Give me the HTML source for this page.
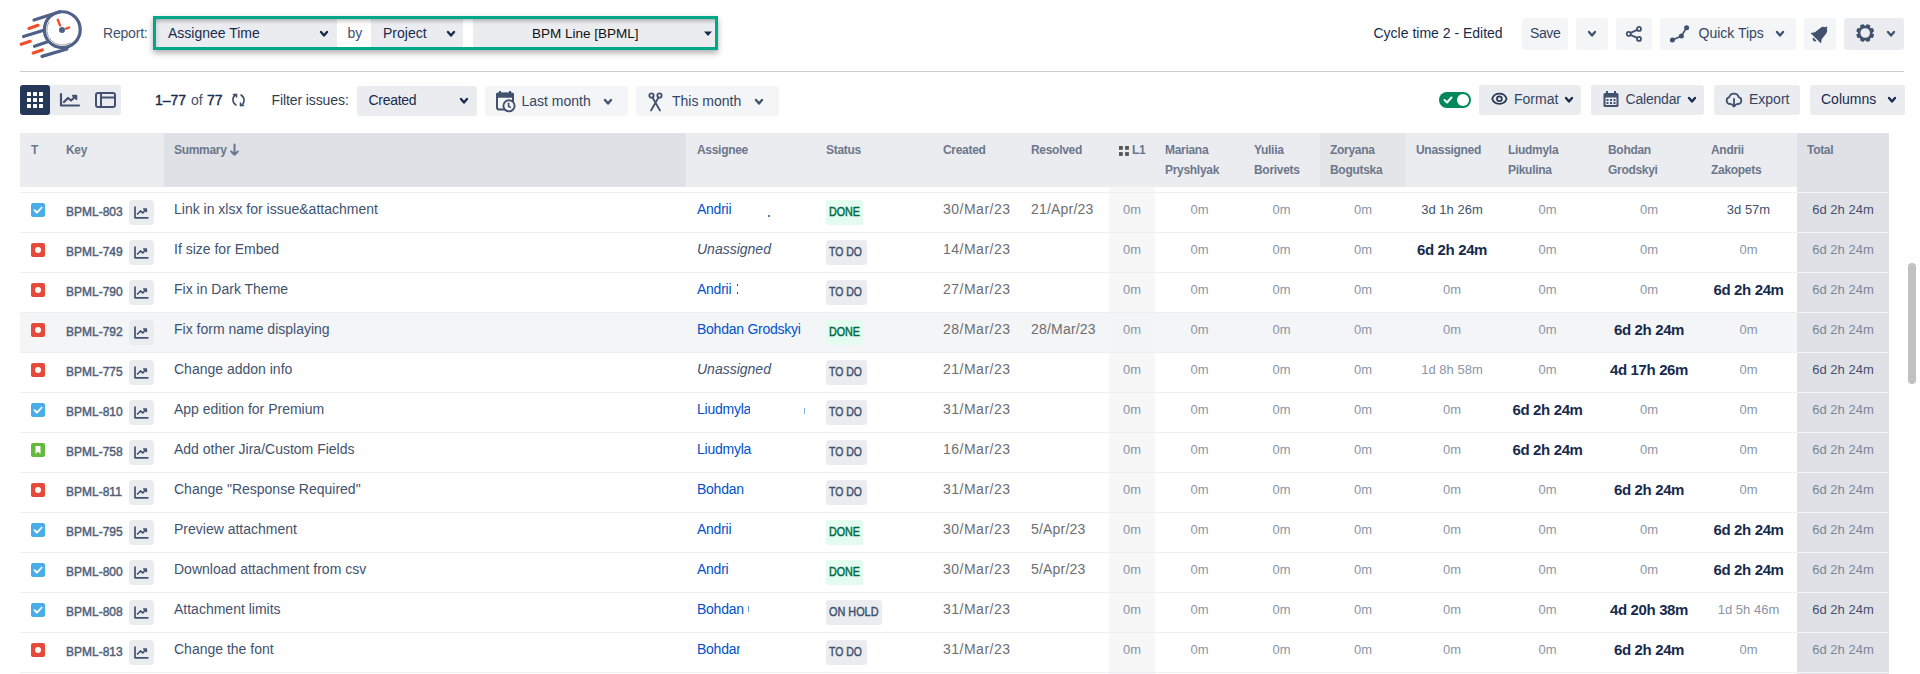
<!DOCTYPE html>
<html><head><meta charset='utf-8'><style>
html,body{margin:0;padding:0;background:#fff;width:1920px;height:674px;overflow:hidden;position:relative;font-family:"Liberation Sans",sans-serif;}
.t{position:absolute;white-space:nowrap;}
.b{position:absolute;display:block;}
</style></head><body>
<svg class='b' style='left:18px;top:6px;' width='70' height='58' viewBox='0 0 70 58'>
<g fill='none' stroke-linecap='round'>
<circle cx='44.3' cy='23.65' r='17.9' stroke='#4f6188' stroke-width='3.2'/>
<path d='M31 15.7 A15.5 15.5 0 0 0 52.2 37' stroke='#a0a0a0' stroke-width='1'/>
<path d='M16 14 L42 5.8' stroke='#4f6188' stroke-width='3.2'/>
<path d='M5.5 30.6 L25 24.4' stroke='#4f6188' stroke-width='3.2'/>
<path d='M16.5 40.3 L29 36' stroke='#4f6188' stroke-width='3.2'/>
<path d='M24 50.4 L49 43' stroke='#4f6188' stroke-width='3.2'/>
<path d='M11 22.4 L20 19.3' stroke='#f24e2c' stroke-width='3.2'/>
<path d='M3.2 38.3 L12.2 35.3' stroke='#f24e2c' stroke-width='3.2'/>
<path d='M15.2 47 L24.3 44' stroke='#f24e2c' stroke-width='3.2'/>
<path d='M39.8 13.8 L42 19.4' stroke='#f24e2c' stroke-width='2.4'/>
<path d='M48 22.7 L51.2 21.5' stroke='#f24e2c' stroke-width='2.4'/>
</g>
<circle cx='44' cy='24' r='3' fill='#4f6188'/>
</svg>
<div class='t' style='left:103px;top:26.15px;font-size:14px;line-height:14px;font-weight:400;color:#42526e;letter-spacing:-0.2px;'>Report:</div>
<div class='b' style='left:153px;top:16px;width:565px;height:34px;background:#fff;box-sizing:border-box;border:3px solid #00a88a;box-shadow:0px 3px 6px rgba(0,0,0,0.32);'></div>
<div class='b' style='left:156px;top:19px;width:181px;height:28px;background:linear-gradient(to bottom, rgba(0,0,0,0.24) 0px, rgba(0,0,0,0.12) 2px, rgba(0,0,0,0.03) 4.5px, rgba(0,0,0,0) 6px), linear-gradient(to right, rgba(0,0,0,0.08) 0px, rgba(0,0,0,0) 5px), #ebecf0;'></div>
<div class='b' style='left:337px;top:19px;width:34px;height:28px;background:linear-gradient(to bottom, rgba(0,0,0,0.24) 0px, rgba(0,0,0,0.12) 2px, rgba(0,0,0,0.03) 4.5px, rgba(0,0,0,0) 6px), #fff;'></div>
<div class='b' style='left:371px;top:19px;width:92px;height:28px;background:linear-gradient(to bottom, rgba(0,0,0,0.24) 0px, rgba(0,0,0,0.12) 2px, rgba(0,0,0,0.03) 4.5px, rgba(0,0,0,0) 6px), #ebecf0;'></div>
<div class='b' style='left:463px;top:19px;width:10px;height:28px;background:linear-gradient(to bottom, rgba(0,0,0,0.24) 0px, rgba(0,0,0,0.12) 2px, rgba(0,0,0,0.03) 4.5px, rgba(0,0,0,0) 6px), #fff;'></div>
<div class='b' style='left:473px;top:19px;width:242px;height:28px;background:linear-gradient(to bottom, rgba(0,0,0,0.24) 0px, rgba(0,0,0,0.12) 2px, rgba(0,0,0,0.03) 4.5px, rgba(0,0,0,0) 6px), #ebecf0;'></div>
<div class='t' style='left:168px;top:26.15px;font-size:14px;line-height:14px;font-weight:400;color:#172b4d;'>Assignee Time</div>
<svg class='b' style='left:319.0px;top:29.7px;' width='10' height='7.6' viewBox='0 0 10 7.6'><path d='M2 2 L5.0 5.6 L8 2' fill='none' stroke='#172b4d' stroke-width='2.3' stroke-linecap='round' stroke-linejoin='round'/></svg>
<div class='t' style='left:347.5px;top:26.15px;font-size:14px;line-height:14px;font-weight:400;color:#42526e;'>by</div>
<div class='t' style='left:383px;top:26.15px;font-size:14px;line-height:14px;font-weight:400;color:#172b4d;'>Project</div>
<svg class='b' style='left:445.5px;top:29.7px;' width='10' height='7.6' viewBox='0 0 10 7.6'><path d='M2 2 L5.0 5.6 L8 2' fill='none' stroke='#172b4d' stroke-width='2.3' stroke-linecap='round' stroke-linejoin='round'/></svg>
<div class='t' style='left:532px;top:26.57px;font-size:13.5px;line-height:13.5px;font-weight:400;color:#111;'>BPM Line [BPML]</div>
<svg class='b' style='left:704px;top:31px;' width='8' height='6' viewBox='0 0 8 6'><path d='M0 0.5 L8 0.5 L4 5 Z' fill='#172b4d'/></svg>
<div class='t' style='left:1373.5px;top:26.15px;font-size:14px;line-height:14px;font-weight:400;color:#172b4d;'>Cycle time 2 - Edited</div>
<div class='b' style='left:1522px;top:18px;width:46px;height:32px;background:#f4f5f7;border-radius:3px;'></div>
<div class='t' style='left:1530px;top:26.15px;font-size:14px;line-height:14px;font-weight:400;color:#344563;letter-spacing:-0.4px;'>Save</div>
<div class='b' style='left:1576px;top:18px;width:32px;height:32px;background:#f4f5f7;border-radius:3px;'></div>
<svg class='b' style='left:1587.0px;top:30.200000000000003px;' width='10' height='7.6' viewBox='0 0 10 7.6'><path d='M2 2 L5.0 5.6 L8 2' fill='none' stroke='#42526e' stroke-width='2.3' stroke-linecap='round' stroke-linejoin='round'/></svg>
<div class='b' style='left:1616px;top:18px;width:36px;height:32px;background:#f4f5f7;border-radius:3px;'></div>
<svg class='b' style='left:1622px;top:22px;' width='24' height='24' viewBox='0 0 24 24'><g fill='none' stroke='#42526e' stroke-width='1.8'><circle cx='17' cy='6.9' r='2'/><circle cx='6.75' cy='11.9' r='2'/><circle cx='17' cy='16.9' r='2'/><path d='M8.5 10.9 L15.2 7.9 M8.5 12.9 L15.2 15.9'/></g></svg>
<div class='b' style='left:1660px;top:18px;width:136px;height:32px;background:#f4f5f7;border-radius:3px;'></div>
<svg class='b' style='left:1668px;top:23px;' width='24' height='22' viewBox='0 0 24 22'><path d='M4.4 17.1 L13.4 13 L18.6 4.7' fill='none' stroke='#42526e' stroke-width='1.6'/><g fill='#42526e'><circle cx='4.4' cy='17.1' r='2.5'/><circle cx='13.4' cy='13' r='2.5'/><circle cx='18.6' cy='4.7' r='2.5'/></g></svg>
<div class='t' style='left:1698.5px;top:26.15px;font-size:14px;line-height:14px;font-weight:400;color:#344563;'>Quick Tips</div>
<svg class='b' style='left:1775.0px;top:30.200000000000003px;' width='10' height='7.6' viewBox='0 0 10 7.6'><path d='M2 2 L5.0 5.6 L8 2' fill='none' stroke='#42526e' stroke-width='2.3' stroke-linecap='round' stroke-linejoin='round'/></svg>
<div class='b' style='left:1804px;top:18px;width:32px;height:32px;background:#f4f5f7;border-radius:3px;'></div>
<svg class='b' style='left:1808px;top:22px;' width='24' height='24' viewBox='0 0 24 24'><g transform='rotate(45 12 12)' fill='#42526e'><path d='M12 3.5 C9.6 3.5 8.2 5 8 7.5 L7.2 14.5 L4.5 18 L19.5 18 L16.8 14.5 L16 7.5 C15.8 5 14.4 3.5 12 3.5 Z'/><rect x='11' y='2' width='2' height='3' rx='1'/><path d='M9.8 19.2 A2.2 2.2 0 0 0 14.2 19.2 Z'/></g></svg>
<div class='b' style='left:1844px;top:18px;width:60px;height:32px;background:#ebecf0;border-radius:3px;'></div>
<svg class='b' style='left:1855px;top:22.5px;' width='21' height='21' viewBox='0 0 21 21'><g transform='translate(10.2 10)' fill='#42526e'><rect x='-2.1' y='-9' width='4.2' height='4' rx='1' transform='rotate(22.5)'/><rect x='-2.1' y='-9' width='4.2' height='4' rx='1' transform='rotate(67.5)'/><rect x='-2.1' y='-9' width='4.2' height='4' rx='1' transform='rotate(112.5)'/><rect x='-2.1' y='-9' width='4.2' height='4' rx='1' transform='rotate(157.5)'/><rect x='-2.1' y='-9' width='4.2' height='4' rx='1' transform='rotate(202.5)'/><rect x='-2.1' y='-9' width='4.2' height='4' rx='1' transform='rotate(247.5)'/><rect x='-2.1' y='-9' width='4.2' height='4' rx='1' transform='rotate(292.5)'/><rect x='-2.1' y='-9' width='4.2' height='4' rx='1' transform='rotate(337.5)'/><circle r='7.4'/><circle r='4.8' fill='#ebecf0'/></g></svg>
<svg class='b' style='left:1886.0px;top:30.200000000000003px;' width='10' height='7.6' viewBox='0 0 10 7.6'><path d='M2 2 L5.0 5.6 L8 2' fill='none' stroke='#42526e' stroke-width='2.3' stroke-linecap='round' stroke-linejoin='round'/></svg>
<div class='b' style='left:20px;top:71px;width:1884px;height:1px;background:#cdcdcd;'></div>
<div class='b' style='left:20px;top:85px;width:101px;height:30px;background:#ebecf0;border-radius:3px;'></div>
<div class='b' style='left:20px;top:85px;width:30px;height:30px;background:#253858;border-radius:3px;'></div>
<svg class='b' style='left:27px;top:92px;' width='16' height='16' viewBox='0 0 16 16'><rect x='0' y='0' width='4' height='4' rx='0.5' fill='#fff'/><rect x='6' y='0' width='4' height='4' rx='0.5' fill='#fff'/><rect x='12' y='0' width='4' height='4' rx='0.5' fill='#fff'/><rect x='0' y='6' width='4' height='4' rx='0.5' fill='#fff'/><rect x='6' y='6' width='4' height='4' rx='0.5' fill='#fff'/><rect x='12' y='6' width='4' height='4' rx='0.5' fill='#fff'/><rect x='0' y='12' width='4' height='4' rx='0.5' fill='#fff'/><rect x='6' y='12' width='4' height='4' rx='0.5' fill='#fff'/><rect x='12' y='12' width='4' height='4' rx='0.5' fill='#fff'/></svg>
<svg class='b' style='left:59px;top:92px;' width='22' height='16' viewBox='0 0 22 16'><g fill='none' stroke='#42526e' stroke-width='2.2' stroke-linecap='round' stroke-linejoin='round'><path d='M2 2 L2 13.5 L20 13.5'/><path d='M5 10 L9 6 L12 8.5 L17 4 M14 3.8 L17.2 3.8 L17.2 7'/></g></svg>
<svg class='b' style='left:95px;top:92px;' width='21' height='16' viewBox='0 0 21 16'><g fill='none' stroke='#42526e' stroke-width='2'><rect x='1' y='1' width='19' height='14' rx='2'/><path d='M6 1 L6 15 M6 5.5 L20 5.5'/></g></svg>
<div class='t' style='left:155px;top:93.15px;font-size:14px;line-height:14px;font-weight:400;color:#172b4d;-webkit-text-stroke:0.4px #172b4d;'>1–77</div>
<div class='t' style='left:191px;top:93.15px;font-size:14px;line-height:14px;font-weight:400;color:#42526e;'>of</div>
<div class='t' style='left:207px;top:93.15px;font-size:14px;line-height:14px;font-weight:400;color:#172b4d;-webkit-text-stroke:0.4px #172b4d;'>77</div>
<svg class='b' style='left:230px;top:92px;' width='17' height='16' viewBox='0 0 17 16'><g fill='none' stroke='#42526e' stroke-width='1.6' stroke-linecap='round'><path d='M6 2.5 A6 6 0 0 0 6 13'/><path d='M3.5 2.5 L6.5 2.5 L6.5 5'/><path d='M11 13.5 A6 6 0 0 0 11 3'/><path d='M13.5 13.5 L10.5 13.5 L10.5 11'/></g></svg>
<div class='t' style='left:271.5px;top:93.15px;font-size:14px;line-height:14px;font-weight:400;color:#2f3d58;letter-spacing:-0.1px;'>Filter issues:</div>
<div class='b' style='left:357px;top:86px;width:120px;height:30px;background:#ebecf0;border-radius:3px;'></div>
<div class='t' style='left:368.5px;top:93.15px;font-size:14px;line-height:14px;font-weight:400;color:#172b4d;letter-spacing:-0.3px;'>Created</div>
<svg class='b' style='left:459.0px;top:97.2px;' width='10' height='7.6' viewBox='0 0 10 7.6'><path d='M2 2 L5.0 5.6 L8 2' fill='none' stroke='#172b4d' stroke-width='2.3' stroke-linecap='round' stroke-linejoin='round'/></svg>
<div class='b' style='left:485px;top:86px;width:143px;height:30px;background:#f4f5f7;border-radius:3px;'></div>
<svg class='b' style='left:494px;top:90px;' width='24' height='24' viewBox='0 0 24 24'><rect x='3' y='3.6' width='16' height='15.8' rx='1.8' fill='none' stroke='#42526e' stroke-width='2'/><rect x='2' y='2.7' width='18' height='5' rx='1.5' fill='#42526e'/><rect x='5' y='1' width='2' height='3' fill='#42526e'/><rect x='15' y='1' width='2' height='3' fill='#42526e'/><circle cx='15' cy='15.8' r='5.6' fill='#f4f5f7' stroke='#42526e' stroke-width='1.9'/><path d='M14.6 12.8 L14.6 16.2 L16.8 17.6' fill='none' stroke='#42526e' stroke-width='1.7'/></svg>
<div class='t' style='left:521.5px;top:94.15px;font-size:14px;line-height:14px;font-weight:400;color:#344563;'>Last month</div>
<svg class='b' style='left:603.0px;top:97.7px;' width='10' height='7.6' viewBox='0 0 10 7.6'><path d='M2 2 L5.0 5.6 L8 2' fill='none' stroke='#42526e' stroke-width='2.3' stroke-linecap='round' stroke-linejoin='round'/></svg>
<div class='b' style='left:636px;top:86px;width:143px;height:30px;background:#f4f5f7;border-radius:3px;'></div>
<svg class='b' style='left:647px;top:92px;' width='18' height='20' viewBox='0 0 18 20'><g fill='none' stroke='#42526e' stroke-width='1.8' stroke-linecap='round'><circle cx='4.5' cy='3.5' r='2.2'/><circle cx='12.5' cy='3.5' r='2.2'/><path d='M5.5 5.5 L13 18.5 M11.5 5.5 L4 18.5'/></g></svg>
<div class='t' style='left:672px;top:94.15px;font-size:14px;line-height:14px;font-weight:400;color:#344563;'>This month</div>
<svg class='b' style='left:754.0px;top:97.7px;' width='10' height='7.6' viewBox='0 0 10 7.6'><path d='M2 2 L5.0 5.6 L8 2' fill='none' stroke='#42526e' stroke-width='2.3' stroke-linecap='round' stroke-linejoin='round'/></svg>
<div class='b' style='left:1439px;top:92px;width:32px;height:16px;background:#00875a;border-radius:8px;'></div>
<div class='b' style='left:1457px;top:94px;width:12px;height:12px;border-radius:6px;background:#fff'></div>
<svg class='b' style='left:1443px;top:95px;' width='10' height='10' viewBox='0 0 10 10'><path d='M1.5 5 L4 7.5 L8.5 2.5' fill='none' stroke='#fff' stroke-width='2' stroke-linecap='round' stroke-linejoin='round'/></svg>
<div class='b' style='left:1479px;top:85px;width:102px;height:30px;background:#ebecf0;border-radius:3px;'></div>
<svg class='b' style='left:1490px;top:92px;' width='18' height='14' viewBox='0 0 18 14'><g fill='none' stroke='#2c3a55' stroke-width='1.8'><path d='M2.2 6.8 C3.5 2.8 6.5 1.7 9.4 1.7 C12.3 1.7 15.3 2.8 16.6 6.8 C15.3 10.8 12.3 11.9 9.4 11.9 C6.5 11.9 3.5 10.8 2.2 6.8 Z'/><circle cx='9.4' cy='6.8' r='2.4'/></g></svg>
<div class='t' style='left:1514px;top:92.15px;font-size:14px;line-height:14px;font-weight:400;color:#344563;'>Format</div>
<svg class='b' style='left:1563.5px;top:96.2px;' width='10' height='7.6' viewBox='0 0 10 7.6'><path d='M2 2 L5.0 5.6 L8 2' fill='none' stroke='#172b4d' stroke-width='2.3' stroke-linecap='round' stroke-linejoin='round'/></svg>
<div class='b' style='left:1591px;top:85px;width:113px;height:30px;background:#ebecf0;border-radius:3px;'></div>
<svg class='b' style='left:1602px;top:90px;' width='18' height='18' viewBox='0 0 18 18'><g fill='#42526e'><rect x='1.5' y='3' width='15' height='14' rx='1.5'/><rect x='4' y='1' width='2' height='4'/><rect x='12' y='1' width='2' height='4'/></g><rect x='3.5' y='7.5' width='11' height='7.5' fill='#ebecf0'/><g fill='#42526e'><rect x='4.5' y='9' width='2' height='2'/><rect x='8' y='9' width='2' height='2'/><rect x='11.5' y='9' width='2' height='2'/><rect x='4.5' y='12' width='2' height='2'/><rect x='8' y='12' width='2' height='2'/><rect x='11.5' y='12' width='2' height='2'/></g></svg>
<div class='t' style='left:1625.5px;top:92.15px;font-size:14px;line-height:14px;font-weight:400;color:#344563;letter-spacing:-0.2px;'>Calendar</div>
<svg class='b' style='left:1686.5px;top:96.2px;' width='10' height='7.6' viewBox='0 0 10 7.6'><path d='M2 2 L5.0 5.6 L8 2' fill='none' stroke='#172b4d' stroke-width='2.3' stroke-linecap='round' stroke-linejoin='round'/></svg>
<div class='b' style='left:1714px;top:85px;width:86px;height:30px;background:#ebecf0;border-radius:3px;'></div>
<svg class='b' style='left:1725px;top:92px;' width='18' height='16' viewBox='0 0 18 16'><g fill='none' stroke='#42526e' stroke-width='1.8' stroke-linecap='round' stroke-linejoin='round'><path d='M5.5 12 L4.5 12 A3.5 3.5 0 0 1 4.2 5.2 A5 5 0 0 1 13.8 5.2 A3.5 3.5 0 0 1 13.5 12 L12.5 12'/><path d='M9 7 L9 14.5 M6.8 12.3 L9 14.5 L11.2 12.3'/></g></svg>
<div class='t' style='left:1749px;top:92.15px;font-size:14px;line-height:14px;font-weight:400;color:#344563;'>Export</div>
<div class='b' style='left:1810px;top:85px;width:95px;height:30px;background:#ebecf0;border-radius:3px;'></div>
<div class='t' style='left:1821px;top:92.15px;font-size:14px;line-height:14px;font-weight:400;color:#172b4d;'>Columns</div>
<svg class='b' style='left:1887.0px;top:96.2px;' width='10' height='7.6' viewBox='0 0 10 7.6'><path d='M2 2 L5.0 5.6 L8 2' fill='none' stroke='#172b4d' stroke-width='2.3' stroke-linecap='round' stroke-linejoin='round'/></svg>
<div class='b' style='left:20px;top:133px;width:1869px;height:54px;background:#ebecf0;'></div>
<div class='b' style='left:164px;top:133px;width:522px;height:54px;background:#dfe1e6;'></div>
<div class='b' style='left:1320px;top:133px;width:86px;height:54px;background:#e4e5e7;'></div>
<div class='b' style='left:1797px;top:133px;width:92px;height:59px;background:#dfe1e6;'></div>
<div class='t' style='left:31px;top:143.84px;font-size:12px;line-height:12px;font-weight:700;color:#6b778c;letter-spacing:-0.3px;'>T</div>
<div class='t' style='left:66px;top:143.84px;font-size:12px;line-height:12px;font-weight:700;color:#6b778c;letter-spacing:-0.3px;'>Key</div>
<div class='t' style='left:174px;top:143.84px;font-size:12px;line-height:12px;font-weight:700;color:#6b778c;letter-spacing:-0.3px;'>Summary</div>
<svg class='b' style='left:229.5px;top:143px;' width='9' height='14' viewBox='0 0 9 14'><path d='M4.5 1.5 L4.5 11.8 M1.2 8.5 L4.5 11.8 L7.8 8.5' fill='none' stroke='#6b778c' stroke-width='2' stroke-linecap='round' stroke-linejoin='round'/></svg>
<div class='t' style='left:697px;top:143.84px;font-size:12px;line-height:12px;font-weight:700;color:#6b778c;letter-spacing:-0.3px;'>Assignee</div>
<div class='t' style='left:826px;top:143.84px;font-size:12px;line-height:12px;font-weight:700;color:#6b778c;letter-spacing:-0.3px;'>Status</div>
<div class='t' style='left:943px;top:143.84px;font-size:12px;line-height:12px;font-weight:700;color:#6b778c;letter-spacing:-0.3px;'>Created</div>
<div class='t' style='left:1031px;top:143.84px;font-size:12px;line-height:12px;font-weight:700;color:#6b778c;letter-spacing:-0.3px;'>Resolved</div>
<svg class='b' style='left:1119px;top:146px;' width='10' height='10' viewBox='0 0 10 10'><g fill='#555'><rect x='0' y='0' width='3.8' height='3.8'/><rect x='6.1' y='0' width='3.8' height='3.8'/><rect x='0' y='6.1' width='3.8' height='3.8'/><rect x='6.1' y='6.1' width='3.8' height='3.8'/></g></svg>
<div class='t' style='left:1132px;top:143.84px;font-size:12px;line-height:12px;font-weight:700;color:#6b778c;letter-spacing:-0.3px;'>L1</div>
<div class='t' style='left:1165px;top:143.84px;font-size:12px;line-height:12px;font-weight:700;color:#6b778c;letter-spacing:-0.3px;'>Mariana</div>
<div class='t' style='left:1165px;top:163.84px;font-size:12px;line-height:12px;font-weight:700;color:#6b778c;letter-spacing:-0.3px;'>Pryshlyak</div>
<div class='t' style='left:1254px;top:143.84px;font-size:12px;line-height:12px;font-weight:700;color:#6b778c;letter-spacing:-0.3px;'>Yuliia</div>
<div class='t' style='left:1254px;top:163.84px;font-size:12px;line-height:12px;font-weight:700;color:#6b778c;letter-spacing:-0.3px;'>Borivets</div>
<div class='t' style='left:1330px;top:143.84px;font-size:12px;line-height:12px;font-weight:700;color:#6b778c;letter-spacing:-0.3px;'>Zoryana</div>
<div class='t' style='left:1330px;top:163.84px;font-size:12px;line-height:12px;font-weight:700;color:#6b778c;letter-spacing:-0.3px;'>Bogutska</div>
<div class='t' style='left:1508px;top:143.84px;font-size:12px;line-height:12px;font-weight:700;color:#6b778c;letter-spacing:-0.3px;'>Liudmyla</div>
<div class='t' style='left:1508px;top:163.84px;font-size:12px;line-height:12px;font-weight:700;color:#6b778c;letter-spacing:-0.3px;'>Pikulina</div>
<div class='t' style='left:1608px;top:143.84px;font-size:12px;line-height:12px;font-weight:700;color:#6b778c;letter-spacing:-0.3px;'>Bohdan</div>
<div class='t' style='left:1608px;top:163.84px;font-size:12px;line-height:12px;font-weight:700;color:#6b778c;letter-spacing:-0.3px;'>Grodskyi</div>
<div class='t' style='left:1711px;top:143.84px;font-size:12px;line-height:12px;font-weight:700;color:#6b778c;letter-spacing:-0.3px;'>Andrii</div>
<div class='t' style='left:1711px;top:163.84px;font-size:12px;line-height:12px;font-weight:700;color:#6b778c;letter-spacing:-0.3px;'>Zakopets</div>
<div class='t' style='left:1416px;top:143.84px;font-size:12px;line-height:12px;font-weight:700;color:#6b778c;letter-spacing:-0.3px;'>Unassigned</div>
<div class='t' style='left:1807px;top:143.84px;font-size:12px;line-height:12px;font-weight:700;color:#6b778c;letter-spacing:-0.3px;'>Total</div>
<div class='b' style='left:1109px;top:187px;width:46px;height:45px;background:#f7f7f8;'></div>
<div class='b' style='left:1797px;top:192px;width:92px;height:40px;background:#dfe1e6;'></div>
<div class='b' style='left:20px;top:192px;width:1777px;height:1px;background:#eeeff2;'></div>
<div class='b' style='left:1797px;top:192px;width:92px;height:1px;background:#f4f5f7;'></div>
<svg class='b' style='left:31px;top:203px;' width='14' height='14' viewBox='0 0 14 14'><rect width='14' height='14' rx='2' fill='#4bade8'/><path d='M3.5 7.2 L6 9.7 L10.7 4.5' fill='none' stroke='#fff' stroke-width='1.8' stroke-linecap='round' stroke-linejoin='round'/></svg>
<div class='t' style='left:66px;top:205.84px;font-size:12px;line-height:12px;font-weight:400;color:#505f79;-webkit-text-stroke:0.45px #505f79;'>BPML-803</div>
<div class='b' style='left:129px;top:200px;width:25px;height:25px;background:#ebecf0;border-radius:4px;'></div>
<svg class='b' style='left:132px;top:203px;' width='19' height='19' viewBox='0 0 19 19'><g fill='none' stroke='#42526e' stroke-width='1.7' stroke-linecap='round' stroke-linejoin='round'><path d='M3 4 L3 14.8 L15.8 14.8'/><path d='M5.5 11 L8.5 8 L10.7 9.8 L14 6.5 M11.8 6 L14.3 6 L14.3 8.5'/></g></svg>
<div class='t' style='left:174px;top:202.15px;font-size:14px;line-height:14px;font-weight:400;color:#42526e;'>Link in xlsx for issue&amp;attachment</div>
<div class='t' style='left:697px;top:202.15px;font-size:14px;line-height:14px;font-weight:400;color:#0052cc;letter-spacing:-0.25px;'>Andrii</div>
<div class='b' style='left:768px;top:215px;width:2px;height:2px;background:#3d7de0;'></div>
<div class='b' style='left:826px;top:200px;width:37px;height:25px;background:#e3fcef;border-radius:3px;'></div>
<div class='t' style='left:829px;top:205.84px;font-size:12px;line-height:12px;font-weight:400;color:#006644;'><span style='display:inline-block;transform:scaleX(0.893);transform-origin:0 0;-webkit-text-stroke:0.45px #006644'>DONE</span></div>
<div class='t' style='left:943px;top:202.15px;font-size:14px;line-height:14px;font-weight:400;color:#6d6e70;letter-spacing:0.5px;'>30/Mar/23</div>
<div class='t' style='left:1031px;top:202.15px;font-size:14px;line-height:14px;font-weight:400;color:#6d6e70;letter-spacing:0.2px;'>21/Apr/23</div>
<div class='t' style='left:1102px;top:203.00px;font-size:13px;line-height:13px;font-weight:400;color:#8b94a5;width:60px;text-align:center;'>0m</div>
<div class='t' style='left:1169.5px;top:203.00px;font-size:13px;line-height:13px;font-weight:400;color:#8b94a5;width:60px;text-align:center;'>0m</div>
<div class='t' style='left:1251.5px;top:203.00px;font-size:13px;line-height:13px;font-weight:400;color:#8b94a5;width:60px;text-align:center;'>0m</div>
<div class='t' style='left:1333px;top:203.00px;font-size:13px;line-height:13px;font-weight:400;color:#8b94a5;width:60px;text-align:center;'>0m</div>
<div class='t' style='left:1402px;top:203.00px;font-size:13px;line-height:13px;font-weight:400;color:#42526e;width:100px;text-align:center;'>3d 1h 26m</div>
<div class='t' style='left:1517.5px;top:203.00px;font-size:13px;line-height:13px;font-weight:400;color:#8b94a5;width:60px;text-align:center;'>0m</div>
<div class='t' style='left:1619px;top:203.00px;font-size:13px;line-height:13px;font-weight:400;color:#8b94a5;width:60px;text-align:center;'>0m</div>
<div class='t' style='left:1698.5px;top:203.00px;font-size:13px;line-height:13px;font-weight:400;color:#42526e;width:100px;text-align:center;'>3d 57m</div>
<div class='t' style='left:1793px;top:203.00px;font-size:13px;line-height:13px;font-weight:400;color:#42526e;width:100px;text-align:center;'>6d 2h 24m</div>
<div class='b' style='left:1109px;top:232px;width:46px;height:40px;background:#f7f7f8;'></div>
<div class='b' style='left:1797px;top:232px;width:92px;height:40px;background:#dfe1e6;'></div>
<div class='b' style='left:20px;top:232px;width:1777px;height:1px;background:#eeeff2;'></div>
<div class='b' style='left:1797px;top:232px;width:92px;height:1px;background:#f4f5f7;'></div>
<svg class='b' style='left:31px;top:243px;' width='14' height='14' viewBox='0 0 14 14'><rect width='14' height='14' rx='2' fill='#e5493a'/><circle cx='7' cy='7' r='3' fill='#fff'/></svg>
<div class='t' style='left:66px;top:245.84px;font-size:12px;line-height:12px;font-weight:400;color:#505f79;-webkit-text-stroke:0.45px #505f79;'>BPML-749</div>
<div class='b' style='left:129px;top:240px;width:25px;height:25px;background:#ebecf0;border-radius:4px;'></div>
<svg class='b' style='left:132px;top:243px;' width='19' height='19' viewBox='0 0 19 19'><g fill='none' stroke='#42526e' stroke-width='1.7' stroke-linecap='round' stroke-linejoin='round'><path d='M3 4 L3 14.8 L15.8 14.8'/><path d='M5.5 11 L8.5 8 L10.7 9.8 L14 6.5 M11.8 6 L14.3 6 L14.3 8.5'/></g></svg>
<div class='t' style='left:174px;top:242.15px;font-size:14px;line-height:14px;font-weight:400;color:#42526e;'>If size for Embed</div>
<div class='t' style='left:697px;top:242.15px;font-size:14px;line-height:14px;font-weight:400;color:#42526e;font-style:italic;'>Unassigned</div>
<div class='b' style='left:826px;top:240px;width:41px;height:25px;background:#ebecf0;border-radius:3px;'></div>
<div class='t' style='left:829px;top:245.84px;font-size:12px;line-height:12px;font-weight:400;color:#42526e;'><span style='display:inline-block;transform:scaleX(0.87);transform-origin:0 0;-webkit-text-stroke:0.45px #42526e'>TO DO</span></div>
<div class='t' style='left:943px;top:242.15px;font-size:14px;line-height:14px;font-weight:400;color:#6d6e70;letter-spacing:0.5px;'>14/Mar/23</div>
<div class='t' style='left:1102px;top:243.00px;font-size:13px;line-height:13px;font-weight:400;color:#8b94a5;width:60px;text-align:center;'>0m</div>
<div class='t' style='left:1169.5px;top:243.00px;font-size:13px;line-height:13px;font-weight:400;color:#8b94a5;width:60px;text-align:center;'>0m</div>
<div class='t' style='left:1251.5px;top:243.00px;font-size:13px;line-height:13px;font-weight:400;color:#8b94a5;width:60px;text-align:center;'>0m</div>
<div class='t' style='left:1333px;top:243.00px;font-size:13px;line-height:13px;font-weight:400;color:#8b94a5;width:60px;text-align:center;'>0m</div>
<div class='t' style='left:1402px;top:242.30px;font-size:15px;line-height:15px;font-weight:700;color:#172b4d;width:100px;text-align:center;letter-spacing:-0.35px;'>6d 2h 24m</div>
<div class='t' style='left:1517.5px;top:243.00px;font-size:13px;line-height:13px;font-weight:400;color:#8b94a5;width:60px;text-align:center;'>0m</div>
<div class='t' style='left:1619px;top:243.00px;font-size:13px;line-height:13px;font-weight:400;color:#8b94a5;width:60px;text-align:center;'>0m</div>
<div class='t' style='left:1718.5px;top:243.00px;font-size:13px;line-height:13px;font-weight:400;color:#8b94a5;width:60px;text-align:center;'>0m</div>
<div class='t' style='left:1793px;top:243.00px;font-size:13px;line-height:13px;font-weight:400;color:#7a869a;width:100px;text-align:center;'>6d 2h 24m</div>
<div class='b' style='left:1109px;top:272px;width:46px;height:40px;background:#f7f7f8;'></div>
<div class='b' style='left:1797px;top:272px;width:92px;height:40px;background:#dfe1e6;'></div>
<div class='b' style='left:20px;top:272px;width:1777px;height:1px;background:#eeeff2;'></div>
<div class='b' style='left:1797px;top:272px;width:92px;height:1px;background:#f4f5f7;'></div>
<svg class='b' style='left:31px;top:283px;' width='14' height='14' viewBox='0 0 14 14'><rect width='14' height='14' rx='2' fill='#e5493a'/><circle cx='7' cy='7' r='3' fill='#fff'/></svg>
<div class='t' style='left:66px;top:285.84px;font-size:12px;line-height:12px;font-weight:400;color:#505f79;-webkit-text-stroke:0.45px #505f79;'>BPML-790</div>
<div class='b' style='left:129px;top:280px;width:25px;height:25px;background:#ebecf0;border-radius:4px;'></div>
<svg class='b' style='left:132px;top:283px;' width='19' height='19' viewBox='0 0 19 19'><g fill='none' stroke='#42526e' stroke-width='1.7' stroke-linecap='round' stroke-linejoin='round'><path d='M3 4 L3 14.8 L15.8 14.8'/><path d='M5.5 11 L8.5 8 L10.7 9.8 L14 6.5 M11.8 6 L14.3 6 L14.3 8.5'/></g></svg>
<div class='t' style='left:174px;top:282.15px;font-size:14px;line-height:14px;font-weight:400;color:#42526e;'>Fix in Dark Theme</div>
<div class='t' style='left:697px;top:282.15px;font-size:14px;line-height:14px;font-weight:400;color:#0052cc;letter-spacing:-0.25px;'>Andrii</div>
<div class='b' style='left:736.5px;top:284px;width:1.5px;height:2px;background:#0052cc;'></div>
<div class='b' style='left:736.5px;top:292px;width:1.5px;height:2px;background:#0052cc;'></div>
<div class='b' style='left:826px;top:280px;width:41px;height:25px;background:#ebecf0;border-radius:3px;'></div>
<div class='t' style='left:829px;top:285.84px;font-size:12px;line-height:12px;font-weight:400;color:#42526e;'><span style='display:inline-block;transform:scaleX(0.87);transform-origin:0 0;-webkit-text-stroke:0.45px #42526e'>TO DO</span></div>
<div class='t' style='left:943px;top:282.15px;font-size:14px;line-height:14px;font-weight:400;color:#6d6e70;letter-spacing:0.5px;'>27/Mar/23</div>
<div class='t' style='left:1102px;top:283.00px;font-size:13px;line-height:13px;font-weight:400;color:#8b94a5;width:60px;text-align:center;'>0m</div>
<div class='t' style='left:1169.5px;top:283.00px;font-size:13px;line-height:13px;font-weight:400;color:#8b94a5;width:60px;text-align:center;'>0m</div>
<div class='t' style='left:1251.5px;top:283.00px;font-size:13px;line-height:13px;font-weight:400;color:#8b94a5;width:60px;text-align:center;'>0m</div>
<div class='t' style='left:1333px;top:283.00px;font-size:13px;line-height:13px;font-weight:400;color:#8b94a5;width:60px;text-align:center;'>0m</div>
<div class='t' style='left:1422px;top:283.00px;font-size:13px;line-height:13px;font-weight:400;color:#8b94a5;width:60px;text-align:center;'>0m</div>
<div class='t' style='left:1517.5px;top:283.00px;font-size:13px;line-height:13px;font-weight:400;color:#8b94a5;width:60px;text-align:center;'>0m</div>
<div class='t' style='left:1619px;top:283.00px;font-size:13px;line-height:13px;font-weight:400;color:#8b94a5;width:60px;text-align:center;'>0m</div>
<div class='t' style='left:1698.5px;top:282.30px;font-size:15px;line-height:15px;font-weight:700;color:#172b4d;width:100px;text-align:center;letter-spacing:-0.35px;'>6d 2h 24m</div>
<div class='t' style='left:1793px;top:283.00px;font-size:13px;line-height:13px;font-weight:400;color:#7a869a;width:100px;text-align:center;'>6d 2h 24m</div>
<div class='b' style='left:20px;top:312px;width:1869px;height:40px;background:#f4f5f7;'></div>
<div class='b' style='left:1109px;top:312px;width:46px;height:40px;background:#f3f4f6;'></div>
<div class='b' style='left:1797px;top:312px;width:92px;height:40px;background:#dfe1e6;'></div>
<div class='b' style='left:20px;top:312px;width:1777px;height:1px;background:#eeeff2;'></div>
<div class='b' style='left:1797px;top:312px;width:92px;height:1px;background:#f4f5f7;'></div>
<svg class='b' style='left:31px;top:323px;' width='14' height='14' viewBox='0 0 14 14'><rect width='14' height='14' rx='2' fill='#e5493a'/><circle cx='7' cy='7' r='3' fill='#fff'/></svg>
<div class='t' style='left:66px;top:325.84px;font-size:12px;line-height:12px;font-weight:400;color:#505f79;-webkit-text-stroke:0.45px #505f79;'>BPML-792</div>
<div class='b' style='left:129px;top:320px;width:25px;height:25px;background:#ebecf0;border-radius:4px;'></div>
<svg class='b' style='left:132px;top:323px;' width='19' height='19' viewBox='0 0 19 19'><g fill='none' stroke='#42526e' stroke-width='1.7' stroke-linecap='round' stroke-linejoin='round'><path d='M3 4 L3 14.8 L15.8 14.8'/><path d='M5.5 11 L8.5 8 L10.7 9.8 L14 6.5 M11.8 6 L14.3 6 L14.3 8.5'/></g></svg>
<div class='t' style='left:174px;top:322.15px;font-size:14px;line-height:14px;font-weight:400;color:#42526e;'>Fix form name displaying</div>
<div class='t' style='left:697px;top:322.15px;font-size:14px;line-height:14px;font-weight:400;color:#0052cc;letter-spacing:-0.25px;'>Bohdan Grodskyi</div>
<div class='b' style='left:826px;top:320px;width:37px;height:25px;background:#e3fcef;border-radius:3px;'></div>
<div class='t' style='left:829px;top:325.84px;font-size:12px;line-height:12px;font-weight:400;color:#006644;'><span style='display:inline-block;transform:scaleX(0.893);transform-origin:0 0;-webkit-text-stroke:0.45px #006644'>DONE</span></div>
<div class='t' style='left:943px;top:322.15px;font-size:14px;line-height:14px;font-weight:400;color:#6d6e70;letter-spacing:0.5px;'>28/Mar/23</div>
<div class='t' style='left:1031px;top:322.15px;font-size:14px;line-height:14px;font-weight:400;color:#6d6e70;letter-spacing:0.2px;'>28/Mar/23</div>
<div class='t' style='left:1102px;top:323.00px;font-size:13px;line-height:13px;font-weight:400;color:#8b94a5;width:60px;text-align:center;'>0m</div>
<div class='t' style='left:1169.5px;top:323.00px;font-size:13px;line-height:13px;font-weight:400;color:#8b94a5;width:60px;text-align:center;'>0m</div>
<div class='t' style='left:1251.5px;top:323.00px;font-size:13px;line-height:13px;font-weight:400;color:#8b94a5;width:60px;text-align:center;'>0m</div>
<div class='t' style='left:1333px;top:323.00px;font-size:13px;line-height:13px;font-weight:400;color:#8b94a5;width:60px;text-align:center;'>0m</div>
<div class='t' style='left:1422px;top:323.00px;font-size:13px;line-height:13px;font-weight:400;color:#8b94a5;width:60px;text-align:center;'>0m</div>
<div class='t' style='left:1517.5px;top:323.00px;font-size:13px;line-height:13px;font-weight:400;color:#8b94a5;width:60px;text-align:center;'>0m</div>
<div class='t' style='left:1599px;top:322.30px;font-size:15px;line-height:15px;font-weight:700;color:#172b4d;width:100px;text-align:center;letter-spacing:-0.35px;'>6d 2h 24m</div>
<div class='t' style='left:1718.5px;top:323.00px;font-size:13px;line-height:13px;font-weight:400;color:#8b94a5;width:60px;text-align:center;'>0m</div>
<div class='t' style='left:1793px;top:323.00px;font-size:13px;line-height:13px;font-weight:400;color:#7a869a;width:100px;text-align:center;'>6d 2h 24m</div>
<div class='b' style='left:1109px;top:352px;width:46px;height:40px;background:#f7f7f8;'></div>
<div class='b' style='left:1797px;top:352px;width:92px;height:40px;background:#dfe1e6;'></div>
<div class='b' style='left:20px;top:352px;width:1777px;height:1px;background:#eeeff2;'></div>
<div class='b' style='left:1797px;top:352px;width:92px;height:1px;background:#f4f5f7;'></div>
<svg class='b' style='left:31px;top:363px;' width='14' height='14' viewBox='0 0 14 14'><rect width='14' height='14' rx='2' fill='#e5493a'/><circle cx='7' cy='7' r='3' fill='#fff'/></svg>
<div class='t' style='left:66px;top:365.84px;font-size:12px;line-height:12px;font-weight:400;color:#505f79;-webkit-text-stroke:0.45px #505f79;'>BPML-775</div>
<div class='b' style='left:129px;top:360px;width:25px;height:25px;background:#ebecf0;border-radius:4px;'></div>
<svg class='b' style='left:132px;top:363px;' width='19' height='19' viewBox='0 0 19 19'><g fill='none' stroke='#42526e' stroke-width='1.7' stroke-linecap='round' stroke-linejoin='round'><path d='M3 4 L3 14.8 L15.8 14.8'/><path d='M5.5 11 L8.5 8 L10.7 9.8 L14 6.5 M11.8 6 L14.3 6 L14.3 8.5'/></g></svg>
<div class='t' style='left:174px;top:362.15px;font-size:14px;line-height:14px;font-weight:400;color:#42526e;'>Change addon info</div>
<div class='t' style='left:697px;top:362.15px;font-size:14px;line-height:14px;font-weight:400;color:#42526e;font-style:italic;'>Unassigned</div>
<div class='b' style='left:826px;top:360px;width:41px;height:25px;background:#ebecf0;border-radius:3px;'></div>
<div class='t' style='left:829px;top:365.84px;font-size:12px;line-height:12px;font-weight:400;color:#42526e;'><span style='display:inline-block;transform:scaleX(0.87);transform-origin:0 0;-webkit-text-stroke:0.45px #42526e'>TO DO</span></div>
<div class='t' style='left:943px;top:362.15px;font-size:14px;line-height:14px;font-weight:400;color:#6d6e70;letter-spacing:0.5px;'>21/Mar/23</div>
<div class='t' style='left:1102px;top:363.00px;font-size:13px;line-height:13px;font-weight:400;color:#8b94a5;width:60px;text-align:center;'>0m</div>
<div class='t' style='left:1169.5px;top:363.00px;font-size:13px;line-height:13px;font-weight:400;color:#8b94a5;width:60px;text-align:center;'>0m</div>
<div class='t' style='left:1251.5px;top:363.00px;font-size:13px;line-height:13px;font-weight:400;color:#8b94a5;width:60px;text-align:center;'>0m</div>
<div class='t' style='left:1333px;top:363.00px;font-size:13px;line-height:13px;font-weight:400;color:#8b94a5;width:60px;text-align:center;'>0m</div>
<div class='t' style='left:1402px;top:363.00px;font-size:13px;line-height:13px;font-weight:400;color:#8b94a5;width:100px;text-align:center;'>1d 8h 58m</div>
<div class='t' style='left:1517.5px;top:363.00px;font-size:13px;line-height:13px;font-weight:400;color:#8b94a5;width:60px;text-align:center;'>0m</div>
<div class='t' style='left:1599px;top:362.30px;font-size:15px;line-height:15px;font-weight:700;color:#172b4d;width:100px;text-align:center;letter-spacing:-0.35px;'>4d 17h 26m</div>
<div class='t' style='left:1718.5px;top:363.00px;font-size:13px;line-height:13px;font-weight:400;color:#8b94a5;width:60px;text-align:center;'>0m</div>
<div class='t' style='left:1793px;top:363.00px;font-size:13px;line-height:13px;font-weight:400;color:#42526e;width:100px;text-align:center;'>6d 2h 24m</div>
<div class='b' style='left:1109px;top:392px;width:46px;height:40px;background:#f7f7f8;'></div>
<div class='b' style='left:1797px;top:392px;width:92px;height:40px;background:#dfe1e6;'></div>
<div class='b' style='left:20px;top:392px;width:1777px;height:1px;background:#eeeff2;'></div>
<div class='b' style='left:1797px;top:392px;width:92px;height:1px;background:#f4f5f7;'></div>
<svg class='b' style='left:31px;top:403px;' width='14' height='14' viewBox='0 0 14 14'><rect width='14' height='14' rx='2' fill='#4bade8'/><path d='M3.5 7.2 L6 9.7 L10.7 4.5' fill='none' stroke='#fff' stroke-width='1.8' stroke-linecap='round' stroke-linejoin='round'/></svg>
<div class='t' style='left:66px;top:405.84px;font-size:12px;line-height:12px;font-weight:400;color:#505f79;-webkit-text-stroke:0.45px #505f79;'>BPML-810</div>
<div class='b' style='left:129px;top:400px;width:25px;height:25px;background:#ebecf0;border-radius:4px;'></div>
<svg class='b' style='left:132px;top:403px;' width='19' height='19' viewBox='0 0 19 19'><g fill='none' stroke='#42526e' stroke-width='1.7' stroke-linecap='round' stroke-linejoin='round'><path d='M3 4 L3 14.8 L15.8 14.8'/><path d='M5.5 11 L8.5 8 L10.7 9.8 L14 6.5 M11.8 6 L14.3 6 L14.3 8.5'/></g></svg>
<div class='t' style='left:174px;top:402.15px;font-size:14px;line-height:14px;font-weight:400;color:#42526e;'>App edition for Premium</div>
<div class='b' style='left:697px;top:392px;width:53px;height:40px;overflow:hidden'>
<div class='t' style='left:0px;top:10.15px;font-size:14px;line-height:14px;font-weight:400;color:#0052cc;letter-spacing:-0.25px;'>Liudmyla</div>
</div>
<div class='b' style='left:804px;top:407.5px;width:1px;height:6.5px;background:#8ab2ee;'></div>
<div class='b' style='left:826px;top:400px;width:41px;height:25px;background:#ebecf0;border-radius:3px;'></div>
<div class='t' style='left:829px;top:405.84px;font-size:12px;line-height:12px;font-weight:400;color:#42526e;'><span style='display:inline-block;transform:scaleX(0.87);transform-origin:0 0;-webkit-text-stroke:0.45px #42526e'>TO DO</span></div>
<div class='t' style='left:943px;top:402.15px;font-size:14px;line-height:14px;font-weight:400;color:#6d6e70;letter-spacing:0.5px;'>31/Mar/23</div>
<div class='t' style='left:1102px;top:403.00px;font-size:13px;line-height:13px;font-weight:400;color:#8b94a5;width:60px;text-align:center;'>0m</div>
<div class='t' style='left:1169.5px;top:403.00px;font-size:13px;line-height:13px;font-weight:400;color:#8b94a5;width:60px;text-align:center;'>0m</div>
<div class='t' style='left:1251.5px;top:403.00px;font-size:13px;line-height:13px;font-weight:400;color:#8b94a5;width:60px;text-align:center;'>0m</div>
<div class='t' style='left:1333px;top:403.00px;font-size:13px;line-height:13px;font-weight:400;color:#8b94a5;width:60px;text-align:center;'>0m</div>
<div class='t' style='left:1422px;top:403.00px;font-size:13px;line-height:13px;font-weight:400;color:#8b94a5;width:60px;text-align:center;'>0m</div>
<div class='t' style='left:1497.5px;top:402.30px;font-size:15px;line-height:15px;font-weight:700;color:#172b4d;width:100px;text-align:center;letter-spacing:-0.35px;'>6d 2h 24m</div>
<div class='t' style='left:1619px;top:403.00px;font-size:13px;line-height:13px;font-weight:400;color:#8b94a5;width:60px;text-align:center;'>0m</div>
<div class='t' style='left:1718.5px;top:403.00px;font-size:13px;line-height:13px;font-weight:400;color:#8b94a5;width:60px;text-align:center;'>0m</div>
<div class='t' style='left:1793px;top:403.00px;font-size:13px;line-height:13px;font-weight:400;color:#7a869a;width:100px;text-align:center;'>6d 2h 24m</div>
<div class='b' style='left:1109px;top:432px;width:46px;height:40px;background:#f7f7f8;'></div>
<div class='b' style='left:1797px;top:432px;width:92px;height:40px;background:#dfe1e6;'></div>
<div class='b' style='left:20px;top:432px;width:1777px;height:1px;background:#eeeff2;'></div>
<div class='b' style='left:1797px;top:432px;width:92px;height:1px;background:#f4f5f7;'></div>
<svg class='b' style='left:31px;top:443px;' width='14' height='14' viewBox='0 0 14 14'><rect width='14' height='14' rx='2' fill='#63ba3c'/><path d='M4.5 3 L9.5 3 L9.5 11 L7 8.8 L4.5 11 Z' fill='#fff'/></svg>
<div class='t' style='left:66px;top:445.84px;font-size:12px;line-height:12px;font-weight:400;color:#505f79;-webkit-text-stroke:0.45px #505f79;'>BPML-758</div>
<div class='b' style='left:129px;top:440px;width:25px;height:25px;background:#ebecf0;border-radius:4px;'></div>
<svg class='b' style='left:132px;top:443px;' width='19' height='19' viewBox='0 0 19 19'><g fill='none' stroke='#42526e' stroke-width='1.7' stroke-linecap='round' stroke-linejoin='round'><path d='M3 4 L3 14.8 L15.8 14.8'/><path d='M5.5 11 L8.5 8 L10.7 9.8 L14 6.5 M11.8 6 L14.3 6 L14.3 8.5'/></g></svg>
<div class='t' style='left:174px;top:442.15px;font-size:14px;line-height:14px;font-weight:400;color:#42526e;'>Add other Jira/Custom Fields</div>
<div class='b' style='left:697px;top:432px;width:60px;height:40px;overflow:hidden'>
<div class='t' style='left:0px;top:10.15px;font-size:14px;line-height:14px;font-weight:400;color:#0052cc;letter-spacing:-0.25px;'>Liudmyla</div>
</div>
<div class='b' style='left:826px;top:440px;width:41px;height:25px;background:#ebecf0;border-radius:3px;'></div>
<div class='t' style='left:829px;top:445.84px;font-size:12px;line-height:12px;font-weight:400;color:#42526e;'><span style='display:inline-block;transform:scaleX(0.87);transform-origin:0 0;-webkit-text-stroke:0.45px #42526e'>TO DO</span></div>
<div class='t' style='left:943px;top:442.15px;font-size:14px;line-height:14px;font-weight:400;color:#6d6e70;letter-spacing:0.5px;'>16/Mar/23</div>
<div class='t' style='left:1102px;top:443.00px;font-size:13px;line-height:13px;font-weight:400;color:#8b94a5;width:60px;text-align:center;'>0m</div>
<div class='t' style='left:1169.5px;top:443.00px;font-size:13px;line-height:13px;font-weight:400;color:#8b94a5;width:60px;text-align:center;'>0m</div>
<div class='t' style='left:1251.5px;top:443.00px;font-size:13px;line-height:13px;font-weight:400;color:#8b94a5;width:60px;text-align:center;'>0m</div>
<div class='t' style='left:1333px;top:443.00px;font-size:13px;line-height:13px;font-weight:400;color:#8b94a5;width:60px;text-align:center;'>0m</div>
<div class='t' style='left:1422px;top:443.00px;font-size:13px;line-height:13px;font-weight:400;color:#8b94a5;width:60px;text-align:center;'>0m</div>
<div class='t' style='left:1497.5px;top:442.30px;font-size:15px;line-height:15px;font-weight:700;color:#172b4d;width:100px;text-align:center;letter-spacing:-0.35px;'>6d 2h 24m</div>
<div class='t' style='left:1619px;top:443.00px;font-size:13px;line-height:13px;font-weight:400;color:#8b94a5;width:60px;text-align:center;'>0m</div>
<div class='t' style='left:1718.5px;top:443.00px;font-size:13px;line-height:13px;font-weight:400;color:#8b94a5;width:60px;text-align:center;'>0m</div>
<div class='t' style='left:1793px;top:443.00px;font-size:13px;line-height:13px;font-weight:400;color:#7a869a;width:100px;text-align:center;'>6d 2h 24m</div>
<div class='b' style='left:1109px;top:472px;width:46px;height:40px;background:#f7f7f8;'></div>
<div class='b' style='left:1797px;top:472px;width:92px;height:40px;background:#dfe1e6;'></div>
<div class='b' style='left:20px;top:472px;width:1777px;height:1px;background:#eeeff2;'></div>
<div class='b' style='left:1797px;top:472px;width:92px;height:1px;background:#f4f5f7;'></div>
<svg class='b' style='left:31px;top:483px;' width='14' height='14' viewBox='0 0 14 14'><rect width='14' height='14' rx='2' fill='#e5493a'/><circle cx='7' cy='7' r='3' fill='#fff'/></svg>
<div class='t' style='left:66px;top:485.84px;font-size:12px;line-height:12px;font-weight:400;color:#505f79;-webkit-text-stroke:0.45px #505f79;'>BPML-811</div>
<div class='b' style='left:129px;top:480px;width:25px;height:25px;background:#ebecf0;border-radius:4px;'></div>
<svg class='b' style='left:132px;top:483px;' width='19' height='19' viewBox='0 0 19 19'><g fill='none' stroke='#42526e' stroke-width='1.7' stroke-linecap='round' stroke-linejoin='round'><path d='M3 4 L3 14.8 L15.8 14.8'/><path d='M5.5 11 L8.5 8 L10.7 9.8 L14 6.5 M11.8 6 L14.3 6 L14.3 8.5'/></g></svg>
<div class='t' style='left:174px;top:482.15px;font-size:14px;line-height:14px;font-weight:400;color:#42526e;'>Change "Response Required"</div>
<div class='t' style='left:697px;top:482.15px;font-size:14px;line-height:14px;font-weight:400;color:#0052cc;letter-spacing:-0.25px;'>Bohdan</div>
<div class='b' style='left:826px;top:480px;width:41px;height:25px;background:#ebecf0;border-radius:3px;'></div>
<div class='t' style='left:829px;top:485.84px;font-size:12px;line-height:12px;font-weight:400;color:#42526e;'><span style='display:inline-block;transform:scaleX(0.87);transform-origin:0 0;-webkit-text-stroke:0.45px #42526e'>TO DO</span></div>
<div class='t' style='left:943px;top:482.15px;font-size:14px;line-height:14px;font-weight:400;color:#6d6e70;letter-spacing:0.5px;'>31/Mar/23</div>
<div class='t' style='left:1102px;top:483.00px;font-size:13px;line-height:13px;font-weight:400;color:#8b94a5;width:60px;text-align:center;'>0m</div>
<div class='t' style='left:1169.5px;top:483.00px;font-size:13px;line-height:13px;font-weight:400;color:#8b94a5;width:60px;text-align:center;'>0m</div>
<div class='t' style='left:1251.5px;top:483.00px;font-size:13px;line-height:13px;font-weight:400;color:#8b94a5;width:60px;text-align:center;'>0m</div>
<div class='t' style='left:1333px;top:483.00px;font-size:13px;line-height:13px;font-weight:400;color:#8b94a5;width:60px;text-align:center;'>0m</div>
<div class='t' style='left:1422px;top:483.00px;font-size:13px;line-height:13px;font-weight:400;color:#8b94a5;width:60px;text-align:center;'>0m</div>
<div class='t' style='left:1517.5px;top:483.00px;font-size:13px;line-height:13px;font-weight:400;color:#8b94a5;width:60px;text-align:center;'>0m</div>
<div class='t' style='left:1599px;top:482.30px;font-size:15px;line-height:15px;font-weight:700;color:#172b4d;width:100px;text-align:center;letter-spacing:-0.35px;'>6d 2h 24m</div>
<div class='t' style='left:1718.5px;top:483.00px;font-size:13px;line-height:13px;font-weight:400;color:#8b94a5;width:60px;text-align:center;'>0m</div>
<div class='t' style='left:1793px;top:483.00px;font-size:13px;line-height:13px;font-weight:400;color:#7a869a;width:100px;text-align:center;'>6d 2h 24m</div>
<div class='b' style='left:1109px;top:512px;width:46px;height:40px;background:#f7f7f8;'></div>
<div class='b' style='left:1797px;top:512px;width:92px;height:40px;background:#dfe1e6;'></div>
<div class='b' style='left:20px;top:512px;width:1777px;height:1px;background:#eeeff2;'></div>
<div class='b' style='left:1797px;top:512px;width:92px;height:1px;background:#f4f5f7;'></div>
<svg class='b' style='left:31px;top:523px;' width='14' height='14' viewBox='0 0 14 14'><rect width='14' height='14' rx='2' fill='#4bade8'/><path d='M3.5 7.2 L6 9.7 L10.7 4.5' fill='none' stroke='#fff' stroke-width='1.8' stroke-linecap='round' stroke-linejoin='round'/></svg>
<div class='t' style='left:66px;top:525.84px;font-size:12px;line-height:12px;font-weight:400;color:#505f79;-webkit-text-stroke:0.45px #505f79;'>BPML-795</div>
<div class='b' style='left:129px;top:520px;width:25px;height:25px;background:#ebecf0;border-radius:4px;'></div>
<svg class='b' style='left:132px;top:523px;' width='19' height='19' viewBox='0 0 19 19'><g fill='none' stroke='#42526e' stroke-width='1.7' stroke-linecap='round' stroke-linejoin='round'><path d='M3 4 L3 14.8 L15.8 14.8'/><path d='M5.5 11 L8.5 8 L10.7 9.8 L14 6.5 M11.8 6 L14.3 6 L14.3 8.5'/></g></svg>
<div class='t' style='left:174px;top:522.15px;font-size:14px;line-height:14px;font-weight:400;color:#42526e;'>Preview attachment</div>
<div class='t' style='left:697px;top:522.15px;font-size:14px;line-height:14px;font-weight:400;color:#0052cc;letter-spacing:-0.25px;'>Andrii</div>
<div class='b' style='left:826px;top:520px;width:37px;height:25px;background:#e3fcef;border-radius:3px;'></div>
<div class='t' style='left:829px;top:525.84px;font-size:12px;line-height:12px;font-weight:400;color:#006644;'><span style='display:inline-block;transform:scaleX(0.893);transform-origin:0 0;-webkit-text-stroke:0.45px #006644'>DONE</span></div>
<div class='t' style='left:943px;top:522.15px;font-size:14px;line-height:14px;font-weight:400;color:#6d6e70;letter-spacing:0.5px;'>30/Mar/23</div>
<div class='t' style='left:1031px;top:522.15px;font-size:14px;line-height:14px;font-weight:400;color:#6d6e70;letter-spacing:0.2px;'>5/Apr/23</div>
<div class='t' style='left:1102px;top:523.00px;font-size:13px;line-height:13px;font-weight:400;color:#8b94a5;width:60px;text-align:center;'>0m</div>
<div class='t' style='left:1169.5px;top:523.00px;font-size:13px;line-height:13px;font-weight:400;color:#8b94a5;width:60px;text-align:center;'>0m</div>
<div class='t' style='left:1251.5px;top:523.00px;font-size:13px;line-height:13px;font-weight:400;color:#8b94a5;width:60px;text-align:center;'>0m</div>
<div class='t' style='left:1333px;top:523.00px;font-size:13px;line-height:13px;font-weight:400;color:#8b94a5;width:60px;text-align:center;'>0m</div>
<div class='t' style='left:1422px;top:523.00px;font-size:13px;line-height:13px;font-weight:400;color:#8b94a5;width:60px;text-align:center;'>0m</div>
<div class='t' style='left:1517.5px;top:523.00px;font-size:13px;line-height:13px;font-weight:400;color:#8b94a5;width:60px;text-align:center;'>0m</div>
<div class='t' style='left:1619px;top:523.00px;font-size:13px;line-height:13px;font-weight:400;color:#8b94a5;width:60px;text-align:center;'>0m</div>
<div class='t' style='left:1698.5px;top:522.30px;font-size:15px;line-height:15px;font-weight:700;color:#172b4d;width:100px;text-align:center;letter-spacing:-0.35px;'>6d 2h 24m</div>
<div class='t' style='left:1793px;top:523.00px;font-size:13px;line-height:13px;font-weight:400;color:#7a869a;width:100px;text-align:center;'>6d 2h 24m</div>
<div class='b' style='left:1109px;top:552px;width:46px;height:40px;background:#f7f7f8;'></div>
<div class='b' style='left:1797px;top:552px;width:92px;height:40px;background:#dfe1e6;'></div>
<div class='b' style='left:20px;top:552px;width:1777px;height:1px;background:#eeeff2;'></div>
<div class='b' style='left:1797px;top:552px;width:92px;height:1px;background:#f4f5f7;'></div>
<svg class='b' style='left:31px;top:563px;' width='14' height='14' viewBox='0 0 14 14'><rect width='14' height='14' rx='2' fill='#4bade8'/><path d='M3.5 7.2 L6 9.7 L10.7 4.5' fill='none' stroke='#fff' stroke-width='1.8' stroke-linecap='round' stroke-linejoin='round'/></svg>
<div class='t' style='left:66px;top:565.84px;font-size:12px;line-height:12px;font-weight:400;color:#505f79;-webkit-text-stroke:0.45px #505f79;'>BPML-800</div>
<div class='b' style='left:129px;top:560px;width:25px;height:25px;background:#ebecf0;border-radius:4px;'></div>
<svg class='b' style='left:132px;top:563px;' width='19' height='19' viewBox='0 0 19 19'><g fill='none' stroke='#42526e' stroke-width='1.7' stroke-linecap='round' stroke-linejoin='round'><path d='M3 4 L3 14.8 L15.8 14.8'/><path d='M5.5 11 L8.5 8 L10.7 9.8 L14 6.5 M11.8 6 L14.3 6 L14.3 8.5'/></g></svg>
<div class='t' style='left:174px;top:562.15px;font-size:14px;line-height:14px;font-weight:400;color:#42526e;'>Download attachment from csv</div>
<div class='t' style='left:697px;top:562.15px;font-size:14px;line-height:14px;font-weight:400;color:#0052cc;letter-spacing:-0.25px;'>Andri</div>
<div class='b' style='left:826px;top:560px;width:37px;height:25px;background:#e3fcef;border-radius:3px;'></div>
<div class='t' style='left:829px;top:565.84px;font-size:12px;line-height:12px;font-weight:400;color:#006644;'><span style='display:inline-block;transform:scaleX(0.893);transform-origin:0 0;-webkit-text-stroke:0.45px #006644'>DONE</span></div>
<div class='t' style='left:943px;top:562.15px;font-size:14px;line-height:14px;font-weight:400;color:#6d6e70;letter-spacing:0.5px;'>30/Mar/23</div>
<div class='t' style='left:1031px;top:562.15px;font-size:14px;line-height:14px;font-weight:400;color:#6d6e70;letter-spacing:0.2px;'>5/Apr/23</div>
<div class='t' style='left:1102px;top:563.00px;font-size:13px;line-height:13px;font-weight:400;color:#8b94a5;width:60px;text-align:center;'>0m</div>
<div class='t' style='left:1169.5px;top:563.00px;font-size:13px;line-height:13px;font-weight:400;color:#8b94a5;width:60px;text-align:center;'>0m</div>
<div class='t' style='left:1251.5px;top:563.00px;font-size:13px;line-height:13px;font-weight:400;color:#8b94a5;width:60px;text-align:center;'>0m</div>
<div class='t' style='left:1333px;top:563.00px;font-size:13px;line-height:13px;font-weight:400;color:#8b94a5;width:60px;text-align:center;'>0m</div>
<div class='t' style='left:1422px;top:563.00px;font-size:13px;line-height:13px;font-weight:400;color:#8b94a5;width:60px;text-align:center;'>0m</div>
<div class='t' style='left:1517.5px;top:563.00px;font-size:13px;line-height:13px;font-weight:400;color:#8b94a5;width:60px;text-align:center;'>0m</div>
<div class='t' style='left:1619px;top:563.00px;font-size:13px;line-height:13px;font-weight:400;color:#8b94a5;width:60px;text-align:center;'>0m</div>
<div class='t' style='left:1698.5px;top:562.30px;font-size:15px;line-height:15px;font-weight:700;color:#172b4d;width:100px;text-align:center;letter-spacing:-0.35px;'>6d 2h 24m</div>
<div class='t' style='left:1793px;top:563.00px;font-size:13px;line-height:13px;font-weight:400;color:#7a869a;width:100px;text-align:center;'>6d 2h 24m</div>
<div class='b' style='left:1109px;top:592px;width:46px;height:40px;background:#f7f7f8;'></div>
<div class='b' style='left:1797px;top:592px;width:92px;height:40px;background:#dfe1e6;'></div>
<div class='b' style='left:20px;top:592px;width:1777px;height:1px;background:#eeeff2;'></div>
<div class='b' style='left:1797px;top:592px;width:92px;height:1px;background:#f4f5f7;'></div>
<svg class='b' style='left:31px;top:603px;' width='14' height='14' viewBox='0 0 14 14'><rect width='14' height='14' rx='2' fill='#4bade8'/><path d='M3.5 7.2 L6 9.7 L10.7 4.5' fill='none' stroke='#fff' stroke-width='1.8' stroke-linecap='round' stroke-linejoin='round'/></svg>
<div class='t' style='left:66px;top:605.84px;font-size:12px;line-height:12px;font-weight:400;color:#505f79;-webkit-text-stroke:0.45px #505f79;'>BPML-808</div>
<div class='b' style='left:129px;top:600px;width:25px;height:25px;background:#ebecf0;border-radius:4px;'></div>
<svg class='b' style='left:132px;top:603px;' width='19' height='19' viewBox='0 0 19 19'><g fill='none' stroke='#42526e' stroke-width='1.7' stroke-linecap='round' stroke-linejoin='round'><path d='M3 4 L3 14.8 L15.8 14.8'/><path d='M5.5 11 L8.5 8 L10.7 9.8 L14 6.5 M11.8 6 L14.3 6 L14.3 8.5'/></g></svg>
<div class='t' style='left:174px;top:602.15px;font-size:14px;line-height:14px;font-weight:400;color:#42526e;'>Attachment limits</div>
<div class='t' style='left:697px;top:602.15px;font-size:14px;line-height:14px;font-weight:400;color:#0052cc;letter-spacing:-0.25px;'>Bohdan</div>
<div class='b' style='left:748px;top:606px;width:1px;height:6px;background:#6a9be6;'></div>
<div class='b' style='left:826px;top:600px;width:56px;height:25px;background:#ebecf0;border-radius:3px;'></div>
<div class='t' style='left:829px;top:605.84px;font-size:12px;line-height:12px;font-weight:400;color:#42526e;'><span style='display:inline-block;transform:scaleX(0.905);transform-origin:0 0;-webkit-text-stroke:0.45px #42526e'>ON HOLD</span></div>
<div class='t' style='left:943px;top:602.15px;font-size:14px;line-height:14px;font-weight:400;color:#6d6e70;letter-spacing:0.5px;'>31/Mar/23</div>
<div class='t' style='left:1102px;top:603.00px;font-size:13px;line-height:13px;font-weight:400;color:#8b94a5;width:60px;text-align:center;'>0m</div>
<div class='t' style='left:1169.5px;top:603.00px;font-size:13px;line-height:13px;font-weight:400;color:#8b94a5;width:60px;text-align:center;'>0m</div>
<div class='t' style='left:1251.5px;top:603.00px;font-size:13px;line-height:13px;font-weight:400;color:#8b94a5;width:60px;text-align:center;'>0m</div>
<div class='t' style='left:1333px;top:603.00px;font-size:13px;line-height:13px;font-weight:400;color:#8b94a5;width:60px;text-align:center;'>0m</div>
<div class='t' style='left:1422px;top:603.00px;font-size:13px;line-height:13px;font-weight:400;color:#8b94a5;width:60px;text-align:center;'>0m</div>
<div class='t' style='left:1517.5px;top:603.00px;font-size:13px;line-height:13px;font-weight:400;color:#8b94a5;width:60px;text-align:center;'>0m</div>
<div class='t' style='left:1599px;top:602.30px;font-size:15px;line-height:15px;font-weight:700;color:#172b4d;width:100px;text-align:center;letter-spacing:-0.35px;'>4d 20h 38m</div>
<div class='t' style='left:1698.5px;top:603.00px;font-size:13px;line-height:13px;font-weight:400;color:#8b94a5;width:100px;text-align:center;'>1d 5h 46m</div>
<div class='t' style='left:1793px;top:603.00px;font-size:13px;line-height:13px;font-weight:400;color:#42526e;width:100px;text-align:center;'>6d 2h 24m</div>
<div class='b' style='left:1109px;top:632px;width:46px;height:40px;background:#f7f7f8;'></div>
<div class='b' style='left:1797px;top:632px;width:92px;height:40px;background:#dfe1e6;'></div>
<div class='b' style='left:20px;top:632px;width:1777px;height:1px;background:#eeeff2;'></div>
<div class='b' style='left:1797px;top:632px;width:92px;height:1px;background:#f4f5f7;'></div>
<svg class='b' style='left:31px;top:643px;' width='14' height='14' viewBox='0 0 14 14'><rect width='14' height='14' rx='2' fill='#e5493a'/><circle cx='7' cy='7' r='3' fill='#fff'/></svg>
<div class='t' style='left:66px;top:645.84px;font-size:12px;line-height:12px;font-weight:400;color:#505f79;-webkit-text-stroke:0.45px #505f79;'>BPML-813</div>
<div class='b' style='left:129px;top:640px;width:25px;height:25px;background:#ebecf0;border-radius:4px;'></div>
<svg class='b' style='left:132px;top:643px;' width='19' height='19' viewBox='0 0 19 19'><g fill='none' stroke='#42526e' stroke-width='1.7' stroke-linecap='round' stroke-linejoin='round'><path d='M3 4 L3 14.8 L15.8 14.8'/><path d='M5.5 11 L8.5 8 L10.7 9.8 L14 6.5 M11.8 6 L14.3 6 L14.3 8.5'/></g></svg>
<div class='t' style='left:174px;top:642.15px;font-size:14px;line-height:14px;font-weight:400;color:#42526e;'>Change the font</div>
<div class='b' style='left:697px;top:632px;width:43px;height:40px;overflow:hidden'>
<div class='t' style='left:0px;top:10.15px;font-size:14px;line-height:14px;font-weight:400;color:#0052cc;letter-spacing:-0.25px;'>Bohdan</div>
</div>
<div class='b' style='left:826px;top:640px;width:41px;height:25px;background:#ebecf0;border-radius:3px;'></div>
<div class='t' style='left:829px;top:645.84px;font-size:12px;line-height:12px;font-weight:400;color:#42526e;'><span style='display:inline-block;transform:scaleX(0.87);transform-origin:0 0;-webkit-text-stroke:0.45px #42526e'>TO DO</span></div>
<div class='t' style='left:943px;top:642.15px;font-size:14px;line-height:14px;font-weight:400;color:#6d6e70;letter-spacing:0.5px;'>31/Mar/23</div>
<div class='t' style='left:1102px;top:643.00px;font-size:13px;line-height:13px;font-weight:400;color:#8b94a5;width:60px;text-align:center;'>0m</div>
<div class='t' style='left:1169.5px;top:643.00px;font-size:13px;line-height:13px;font-weight:400;color:#8b94a5;width:60px;text-align:center;'>0m</div>
<div class='t' style='left:1251.5px;top:643.00px;font-size:13px;line-height:13px;font-weight:400;color:#8b94a5;width:60px;text-align:center;'>0m</div>
<div class='t' style='left:1333px;top:643.00px;font-size:13px;line-height:13px;font-weight:400;color:#8b94a5;width:60px;text-align:center;'>0m</div>
<div class='t' style='left:1422px;top:643.00px;font-size:13px;line-height:13px;font-weight:400;color:#8b94a5;width:60px;text-align:center;'>0m</div>
<div class='t' style='left:1517.5px;top:643.00px;font-size:13px;line-height:13px;font-weight:400;color:#8b94a5;width:60px;text-align:center;'>0m</div>
<div class='t' style='left:1599px;top:642.30px;font-size:15px;line-height:15px;font-weight:700;color:#172b4d;width:100px;text-align:center;letter-spacing:-0.35px;'>6d 2h 24m</div>
<div class='t' style='left:1718.5px;top:643.00px;font-size:13px;line-height:13px;font-weight:400;color:#8b94a5;width:60px;text-align:center;'>0m</div>
<div class='t' style='left:1793px;top:643.00px;font-size:13px;line-height:13px;font-weight:400;color:#7a869a;width:100px;text-align:center;'>6d 2h 24m</div>
<div class='b' style='left:1109px;top:672px;width:46px;height:2px;background:#f7f7f8;'></div>
<div class='b' style='left:1797px;top:672px;width:92px;height:2px;background:#dfe1e6;'></div>
<div class='b' style='left:20px;top:672px;width:1777px;height:1px;background:#eeeff2;'></div>
<div class='b' style='left:1797px;top:672px;width:92px;height:1px;background:#f4f5f7;'></div>
<div class='b' style='left:1908px;top:263px;width:8px;height:121px;background:#c1c1c1;border-radius:4px;'></div>
</body></html>
